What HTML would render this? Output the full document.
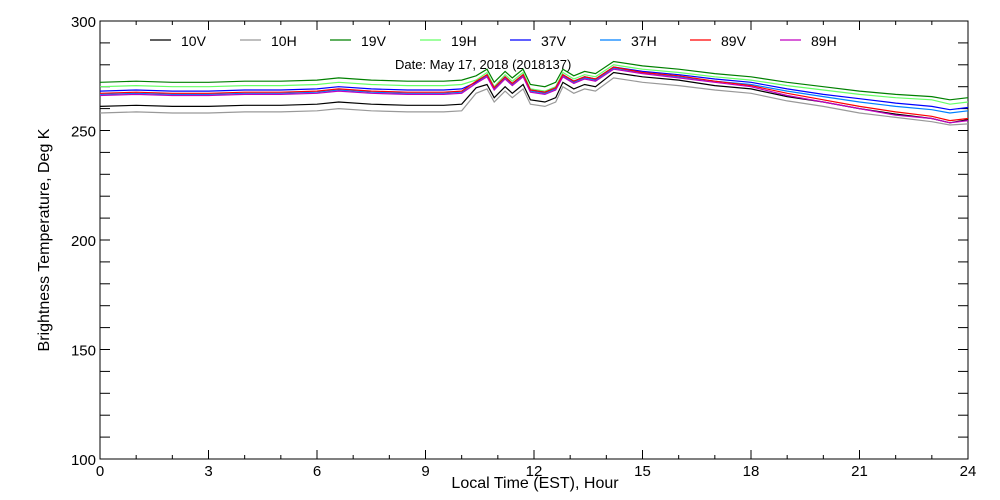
<!DOCTYPE html>
<html><head><meta charset="utf-8"><style>
body{margin:0;background:#fff;}
svg{display:block;font-family:"Liberation Sans",sans-serif;}
</style></head><body>
<svg id="chart" width="1000" height="500" viewBox="0 0 1000 500">
<rect x="0" y="0" width="1000" height="500" fill="#fff"/>
<g id="axes"></g>
<g id="series"></g>
<g id="legend"></g>
<text x="395" y="69" font-size="13" fill="#000">Date: May 17, 2018 (2018137)</text>
<text x="535" y="488" font-size="16" text-anchor="middle" fill="#000">Local Time (EST), Hour</text>
<text x="49" y="240" font-size="16" text-anchor="middle" fill="#000" transform="rotate(-90 49 240)">Brightness Temperature, Deg K</text>
</svg>
<script>
const hours=[0,1,2,3,4,5,6,6.6,7.5,8.5,9.5,10,10.4,10.7,10.9,11.2,11.4,11.7,11.9,12.3,12.6,12.8,13.1,13.4,13.7,14.2,15,16,17,18,19,20,21,22,23,23.5,24];
const s10V=[261,261.5,261,261,261.5,261.5,262,263,262,261.5,261.5,262,269.5,271,265,270,267,271,264,263,265,272,269,271,270,276.5,274.5,273,270.5,269,265.5,263,260,257.5,255.5,253.5,255];
const s10H=[258,258.5,258,258,258.5,258.5,259,260,259,258.5,258.5,259,267,269,263,268,265,269,262,261,263,270,267,269,268,274,272,270.5,268.5,267,263.5,261,258,256,254,252.5,253];
const s19V=[272,272.5,272,272,272.5,272.5,273,274,273,272.5,272.5,273,275,278,272,277,274,278,271,270,272,278,275,277,276,281.5,279.5,278,276,274.5,272,270,268,266.5,265.5,264,265];
const s19H=[270,270.5,270,270,270.5,270.5,271,272,271,270.5,270.5,271,273,276.5,270,275.5,272.5,276.5,269,268,270,276.5,273.5,275.5,274.5,280,278,276.5,274.5,273,270.5,268.5,266.5,265,264,262,263];
const s37V=[268,268.5,268,268,268.5,268.5,269,270,269,268.5,268.5,269,272,275.5,269.5,274.5,271.5,275.5,268.5,267.5,269.5,275.5,272.5,274.5,273.5,279,277,275.5,273.5,272,269,266.5,264.5,262.5,261,259.5,260.5];
const s37H=[266.5,267,266.5,266.5,267,267,267.5,268.5,267.5,267,267,267.5,271.5,275,269,274,271,275,268,267,269,275,272,274,273,278.5,276.5,274.5,272.5,271,268,265.5,263,261,259.5,258,259];
const s89V=[267,267.5,267,267,267.5,267.5,268,269,268,267.5,267.5,268,272.5,275.5,269.5,274.5,271.5,275.5,268.5,267.5,269.5,275.5,272.5,274.5,273.5,279,276.5,275,272.5,270.5,267,264,261,258.5,256.5,254.5,255.5];
const s89H=[266,266.5,266,266,266.5,266.5,267,268,267,266.5,266.5,267,271.5,274.5,268.5,273.5,270.5,274.5,267.5,266.5,268.5,274.5,271.5,273.5,272.5,278,276,274,272,270,266,263,260,257,255.5,253.5,254.5];
const seriesNames=["10V","10H","19V","19H","37V","37H","89V","89H"];
const seriesData=[s10V,s10H,s19V,s19H,s37V,s37H,s89V,s89H];
const seriesColors=["#000000","#999999","#008000","#66ff66","#0000ff","#0080ff","#ff0000","#c000c0"];
const xTicks=[0,3,6,9,12,15,18,21,24];
const yTicks=[100,150,200,250,300];

const X0=100,X1=968,Y0=459,Y1=21;
const xs=h=>X0+(h/24)*(X1-X0);
const ys=v=>Y0-(v-100)/200*(Y0-Y1);
const NS="http://www.w3.org/2000/svg";
function mk(tag,attrs,parent){const e=document.createElementNS(NS,tag);for(const k in attrs)e.setAttribute(k,attrs[k]);parent.appendChild(e);return e;}
const axes=document.getElementById('axes');
const frame=mk('rect',{x:X0,y:Y1,width:X1-X0,height:Y0-Y1,fill:'none',stroke:'#000','stroke-width':1},axes);


for(let h=0;h<=24;h++){
  const len=h%3===0?9:4;const x=xs(h);
  const t1=mk('line',{x1:x,x2:x,y1:Y0,y2:Y0-len,stroke:'#000'},axes);
  
  
  const t2=mk('line',{x1:x,x2:x,y1:Y1,y2:Y1+len,stroke:'#000'},axes);
  
  
}
xTicks.forEach(h=>{const t=mk('text',{x:xs(h),y:Y0+17,'font-size':15,'text-anchor':'middle'},axes);t.textContent=h;
  
  });
for(let v=100;v<=300;v+=10){
  const y=ys(v);const len=10;
  const t1=mk('line',{x1:X0,x2:X0+len,y1:y,y2:y,stroke:'#000'},axes);
  
  
  const t2=mk('line',{x1:X1,x2:X1-len,y1:y,y2:y,stroke:'#000'},axes);
  
  
}
yTicks.forEach(v=>{const t=mk('text',{x:X0-4,y:ys(v)+6,'font-size':15,'text-anchor':'end'},axes);t.textContent=v;
  
  });
const sg=document.getElementById('series');
seriesData.forEach((d,i)=>{
  const pts=d.map((v,j)=>xs(hours[j]).toFixed(1)+','+ys(v).toFixed(1)).join(' ');
  const p=mk('polyline',{points:pts,fill:'none',stroke:seriesColors[i],'stroke-width':1.2},sg);
  
  
});
const lg=document.getElementById('legend');
seriesNames.forEach((n,i)=>{
  const x=150+i*90;
  const l=mk('line',{x1:x,x2:x+21,y1:40,y2:40,stroke:seriesColors[i],'stroke-width':1.2},lg);
  
  
  const t=mk('text',{x:x+31,y:46,'font-size':14},lg);t.textContent=n;
  
  
});
</script>
</body></html>
